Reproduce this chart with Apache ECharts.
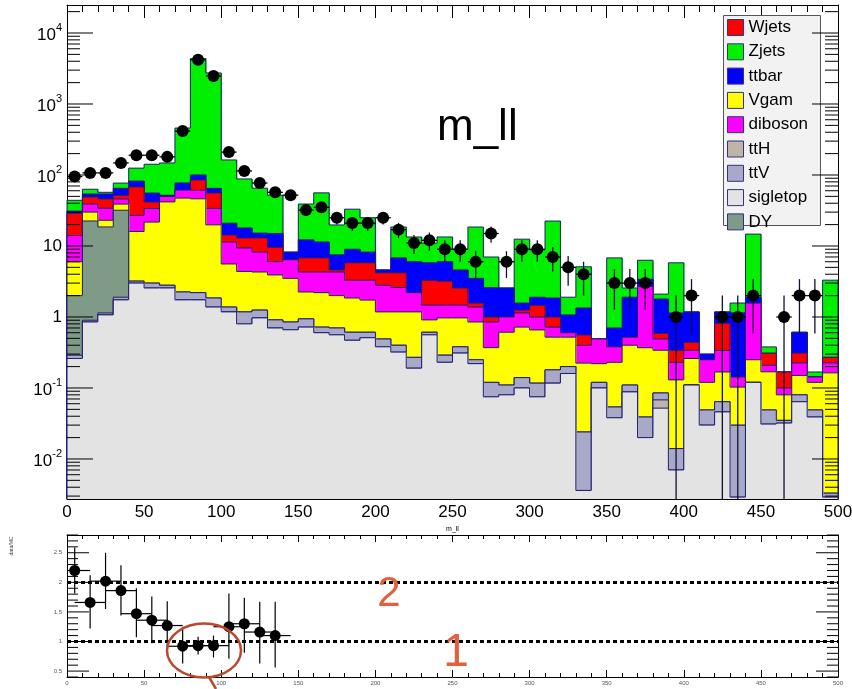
<!DOCTYPE html>
<html><head><meta charset="utf-8">
<script src="https://cdn.jsdelivr.net/npm/echarts@6/dist/echarts.min.js"></script>
<style>html,body{margin:0;padding:0;background:#fff}#c{width:852px;height:689px}</style>
</head><body><div id="c"></div>
<script>
// ---------------- DATA ----------------
const binLowEdges = [0,10,20,30,40,50,60,70,80,90,100,110,120,130,140,150,160,170,180,190,200,210,220,230,240,250,260,270,280,290,300,310,320,330,340,350,360,370,380,390,400,410,420,430,440,450,460,470,480,490];
const BIN_WIDTH = 10;

// stack components (bottom -> top)
const sigletop = [.26,.85,1.07,1.74,3.0,2.56,2.56,1.74,1.74,1.38, 1.18,.80,.97,.70,.66,.72,.60,.56,.47,.51, .38,.32,.19,.56,.23,.31,.22,.075,.08,.10, .075,.117,.16,.0036,.10,.038,.088,.020,.052,.007, .11,.030,.046,.0029,.12,.031,.032,.064,.039,.0029];
const ttH = [0,0,0,0,0,0,0,0,0,0, 0,0,0,0,0,0,0,0,0,0, 0,0,0,0,0,0,0,0,0,0, 0,0,0,0,0,0,0,0,.016,0, 0,0,0,0,0,0,0,0,0,0];
const ttV = [.03,.05,.07,.16,.2,.44,.24,.51,.46,.47, .2,.38,.28,.21,.19,.22,.12,.14,.14,.10, .11,.08,.08,.05,.06,.07,.03,.045,.03,.04, .042,.063,.04,.0204,.02,.016,.022,.019,.017,.007, 0,.019,.018,.027,0,.018,.003,.016,.01,.0004];
const DY = [1.71,21.6,17.4,30,0,0,0,0,0,0, 0,0,0,0,0,0,0,0,0,0, 0,0,0,0,0,0,0,0,0,0, 0,0,0,0,0,0,0,0,0,0, 0,0,0,0,0,0,0,0,0,0];
const Vgam = [4.0,7.5,4.5,7,12.8,18.7,39,45,44,18, 4.2,3.2,3.05,3.0,2.65,1.31,1.48,1.3,1.24,1.12, .69,.78,.91,.30,.68,.59,.6,.25,.5,.58, .54,.34,.32,.2,.10,.176,.29,.33,.255,.116, .15,.071,.104,.073,.13,.12,.045,.07,.071,.16];
const diboson = [8,9,11,7,11,12,8,14,15,14, 5.8,5,3.9,2.1,2.9,2.05,2.1,2.3,1.45,1.57, 1.62,1.42,1.02,.56,.5,.5,.53,.48,.39,.42, .34,.2,.08,.175,.27,.15,.12,2.33,.15,.1, .08,.13,.17,.04,1.32,.04,.02,.075,.023,.062];
const Wjets = [15,10,12,6,41,8,0,0,24,22, 2.9,3.6,4.8,3.6,0,2.5,2.5,.3,2.5,2.5, 1.4,1.6,0,1.83,1.73,1.09,.19,.15,0,.11, .47,.28,0,.16,0,0,0,0,.1,.11, .1,0,.48,0,0,.1,.068,.085,0,.045];
const ttbar = [2,5,8,13,14,14,2,16,15,9, 6.7,5,2.2,5.4,1.8,5.4,4.6,2.9,3.2,2.4, .4,2.6,3.8,2.5,2.8,2.04,1.93,1.6,1.56,.32, .43,.85,.47,.78,0,.32,1.38,.7,1.2,.8, .74,.05,.36,1.0,.33,0,0,.3,0,0];
const Zjets = [13,9,3,12,43,86,96,381,4260,2675, 142,70,50,37,0,26.8,44.6,12.3,24,16.8, 0,11.7,7.4,5.2,7.4,4.4,15,4.4,0,10.9, 6.9,20.6,.83,3.76,0,6.1,.66,2.9,.31,4.66, 0,0,0,.43,12.8,.07,0,0,.025,3.03];

// observed data counts
const dataCounts = [95,107,107,148,190,190,180,416,4190,2480, 210,114,77,57,52,32,35,25,21,21, 25,17,11,12,9,9,6,15,6,9, 9,7,5,4,0,3,3,3,0,1, 2,0,1,1,2,0,1,2,2,0];

// ratio panel (data/MC), first 14 bins
const ratioValues = [2.20,1.66,2.02,1.86,1.47,1.36,1.27,0.92,0.93,0.93,1.25,1.30,1.16,1.10];
const ratioHigh   = [2.59,2.12,2.50,2.29,1.90,1.76,1.68,1.25,1.08,1.10,1.81,1.74,1.67,1.67];
const ratioLow    = [1.81,1.22,1.55,1.44,1.07,0.97,0.90,0.63,0.78,0.73,0.71,0.81,0.63,0.56];

// tick definitions
const yDecades = [0.001,0.01,0.1,1,10,100,1000,10000];
const yMinorMultipliers = [2,3,4,5,6,7,8,9];
const ratioMajorTicks = [0.5,1,1.5,2,2.5];

const legendOrder = ['Wjets','Zjets','ttbar','Vgam','diboson','ttH','ttV','sigletop','DY'];

// ---------------- CHART ----------------
const FONT = '"Liberation Sans", Arial, Helvetica, sans-serif';
const Y_MIN = 0.00273, Y_MAX = 24800;
const X_MAX = 500;
const LINE = '#1e1e6e';
const clampY = v => Math.min(Math.max(v, Y_MIN), Y_MAX);

const processes = [
  {name:'sigletop', values:sigletop, color:'#e3e3e3'},
  {name:'ttH', values:ttH, color:'#beb4aa'},
  {name:'ttV', values:ttV, color:'#a8a8c8'},
  {name:'DY', values:DY, color:'#809a88'},
  {name:'Vgam', values:Vgam, color:'#ffff00'},
  {name:'diboson', values:diboson, color:'#ff00ff'},
  {name:'Wjets', values:Wjets, color:'#ff0000'},
  {name:'ttbar', values:ttbar, color:'#0000ff'},
  {name:'Zjets', values:Zjets, color:'#00f000'}
];
const cumulative = [];
let acc = binLowEdges.map(() => 0);
processes.forEach(p => { acc = acc.map((a, i) => a + p.values[i]); cumulative.push(acc); });
const NB = binLowEdges.length;

const stackSeries = processes.map((p, k) => {
  const cum = cumulative[k];
  return {
    type:'custom', name:p.name, xAxisIndex:0, yAxisIndex:0, z:2,
    itemStyle:{color:p.color}, silent:true,
    encode:{x:0, y:1},
    data: cum.map((v, i) => [binLowEdges[i] + BIN_WIDTH/2, clampY(v)]),
    renderItem:(params, api) => {
      const i = params.dataIndex;
      const x0 = binLowEdges[i], x1 = x0 + BIN_WIDTH;
      const top = clampY(cum[i]);
      const prev = i > 0 ? clampY(cum[i-1]) : Y_MIN;
      const bl = api.coord([x0, Y_MIN]);
      const tr = api.coord([x1, top]);
      const pv = api.coord([x0, prev]);
      const extra = (i < NB - 1) ? 0.7 : 0;
      const pts = [[bl[0], pv[1]], [bl[0], tr[1]], [tr[0], tr[1]]];
      if (i === NB - 1) pts.push([tr[0], bl[1]]);
      return {type:'group', children:[
        {type:'rect', shape:{x:bl[0], y:tr[1], width:tr[0]-bl[0]+extra, height:bl[1]-tr[1]}, style:{fill:p.color}},
        {type:'polyline', shape:{points:pts}, style:{stroke:LINE, lineWidth:1, fill:null}}
      ]};
    }
  };
}).reverse();

// data points
const dataPts = [];
dataCounts.forEach((n, i) => { if (n > 0) dataPts.push([binLowEdges[i] + BIN_WIDTH/2, n]); });

const dataErr = {
  type:'custom', xAxisIndex:0, yAxisIndex:0, z:5, silent:true,
  encode:{x:0, y:1}, data:dataPts,
  renderItem:(params, api) => {
    const x = api.value(0), n = api.value(1), e = Math.sqrt(n);
    const l = api.coord([x - BIN_WIDTH/2, n]), r = api.coord([x + BIN_WIDTH/2, n]);
    const t = api.coord([x, clampY(n + e)]), b = api.coord([x, clampY(n - e)]);
    return {type:'group', children:[
      {type:'line', shape:{x1:l[0], y1:l[1], x2:r[0], y2:r[1]}, style:{stroke:'#000', lineWidth:1.3}},
      {type:'line', shape:{x1:t[0], y1:t[1], x2:b[0], y2:b[1]}, style:{stroke:'#111133', lineWidth:1.3}}
    ]};
  }
};
const dataScatter = {type:'scatter', xAxisIndex:0, yAxisIndex:0, z:6, silent:true, symbol:'circle', symbolSize:12,
  itemStyle:{color:'#000', opacity:1}, data:dataPts};

// ticks on main y (log)
const yTickData = [];
yDecades.forEach(d => {
  if (d >= Y_MIN && d <= Y_MAX) yTickData.push([0, d, 26]);
  yMinorMultipliers.forEach(m => { const v = d*m; if (v >= Y_MIN && v <= Y_MAX) yTickData.push([0, v, 13]); });
});
const tickRender = (xmax) => (params, api) => {
  const v = api.value(1), len = api.value(2);
  const pl = api.coord([0, v]), pr = api.coord([xmax, v]);
  return {type:'group', children:[
    {type:'line', shape:{x1:pl[0], y1:pl[1], x2:pl[0]+len, y2:pl[1]}, style:{stroke:'#000', lineWidth:1}},
    {type:'line', shape:{x1:pr[0], y1:pr[1], x2:pr[0]-len, y2:pr[1]}, style:{stroke:'#000', lineWidth:1}}
  ]};
};
const yTicks = {type:'custom', xAxisIndex:0, yAxisIndex:0, z:7, silent:true, encode:{x:0,y:1}, data:yTickData, renderItem:tickRender(X_MAX)};

// ratio ticks
const rTickData = [];
for (let t = 4; t <= 28; t++) {
  const v = t/10;
  const major = ratioMajorTicks.some(m => Math.abs(m - v) < 1e-9);
  rTickData.push([0, v, major ? 22 : 11]);
}
const rTicks = {type:'custom', xAxisIndex:2, yAxisIndex:2, z:7, silent:true, encode:{x:0,y:1}, data:rTickData, renderItem:tickRender(X_MAX)};

// ratio points
const ratioPts = ratioValues.map((v, i) => [binLowEdges[i] + BIN_WIDTH/2, v, ratioLow[i], ratioHigh[i]]);
const ratioErr = {
  type:'custom', xAxisIndex:2, yAxisIndex:2, z:5, silent:true, encode:{x:0,y:1}, data:ratioPts,
  renderItem:(params, api) => {
    const x = api.value(0), v = api.value(1), lo = api.value(2), hi = api.value(3);
    const l = api.coord([Math.max(0, x - BIN_WIDTH), v]), r = api.coord([x + BIN_WIDTH, v]);
    const t = api.coord([x, hi]), b = api.coord([x, lo]);
    return {type:'group', children:[
      {type:'line', shape:{x1:l[0], y1:l[1], x2:r[0], y2:r[1]}, style:{stroke:'#000', lineWidth:1.2}},
      {type:'line', shape:{x1:t[0], y1:t[1], x2:b[0], y2:b[1]}, style:{stroke:'#000', lineWidth:1.2}}
    ]};
  }
};
const ratioScatter = {type:'scatter', xAxisIndex:2, yAxisIndex:2, z:6, silent:true, symbolSize:11,
  itemStyle:{color:'#000', opacity:1}, data:ratioPts.map(p => [p[0], p[1]]),
  markLine:{silent:true, symbol:['none','none'], label:{show:false}, animation:false,
    lineStyle:{color:'#000', type:[4,3], width:3, opacity:1}, data:[{yAxis:1},{yAxis:2}]}};

const xAxisBase = (grid, pos, major, minor, labels) => ({
  gridIndex:grid, type:'value', min:0, max:X_MAX, interval:50, position:pos,
  axisLine:{show:true, onZero:false, lineStyle:{color:'#000', width:1}},
  axisTick:{show:true, inside:true, length:major, lineStyle:{color:'#000'}},
  minorTick:{show:true, splitNumber:5, length:minor, lineStyle:{color:'#000'}},
  splitLine:{show:false}, minorSplitLine:{show:false},
  axisLabel: labels
});

const supLabel = v => {
  const e = Math.log10(v), r = Math.round(e);
  if (Math.abs(e - r) > 1e-4) return '';
  if (r === 0) return '{p|1}';
  if (r === 1) return '{p|10}';
  return '{b|10}{s|' + r + '}';
};

const chart = echarts.init(document.getElementById('c'), null, {renderer:'canvas'});
chart.setOption({
  animation:false,
  backgroundColor:'#fff',
  textStyle:{fontFamily:FONT},
  grid:[
    {left:67, top:5, width:771, height:494, outerBoundsMode:'none', containLabel:false},
    {left:67, top:535, width:771, height:142, outerBoundsMode:'none', containLabel:false}
  ],
  xAxis:[
    Object.assign(xAxisBase(0, 'bottom', 13, 7, {show:true, fontSize:17, color:'#000', fontFamily:FONT, margin:5}),
      {name:'m_ll', nameLocation:'middle', nameGap:19, nameTextStyle:{fontSize:7, color:'#000', fontFamily:FONT}}),
    xAxisBase(0, 'top', 13, 7, {show:false}),
    xAxisBase(1, 'bottom', 7, 4, {show:true, fontSize:6, color:'#555', fontFamily:FONT, margin:3}),
    xAxisBase(1, 'top', 7, 4, {show:false})
  ],
  yAxis:[
    {gridIndex:0, type:'log', logBase:10, min:Y_MIN, max:Y_MAX, position:'left',
      axisLine:{show:true, onZero:false, lineStyle:{color:'#000'}}, axisTick:{show:false}, splitLine:{show:false},
      axisLabel:{show:true, margin:5, showMinLabel:false, showMaxLabel:false, formatter:supLabel,
        rich:{
          p:{fontSize:17, fontFamily:FONT, color:'#000', lineHeight:17},
          b:{fontSize:17, fontFamily:FONT, color:'#000', lineHeight:22, verticalAlign:'bottom'},
          s:{fontSize:11, fontFamily:FONT, color:'#000', lineHeight:22, verticalAlign:'top'}
        }}},
    {gridIndex:0, type:'log', logBase:10, min:Y_MIN, max:Y_MAX, position:'right',
      axisLine:{show:true, onZero:false, lineStyle:{color:'#000'}}, axisTick:{show:false}, splitLine:{show:false}, axisLabel:{show:false}},
    {gridIndex:1, type:'value', min:0.4, max:2.8, interval:0.1, position:'left',
      axisLine:{show:true, onZero:false, lineStyle:{color:'#000'}}, axisTick:{show:false}, splitLine:{show:false},
      axisLabel:{show:true, fontSize:6, color:'#555', fontFamily:FONT, margin:5,
        formatter:v => { const t = Math.round(v*10); return (t % 5 === 0) ? String(t/10) : ''; }}},
    {gridIndex:1, type:'value', min:0.4, max:2.8, interval:0.1, position:'right',
      axisLine:{show:true, onZero:false, lineStyle:{color:'#000'}}, axisTick:{show:false}, splitLine:{show:false}, axisLabel:{show:false}}
  ],
  legend:{
    show:true, orient:'vertical', left:727, top:19, padding:0, itemGap:7.3, itemWidth:16, itemHeight:16,
    icon:'rect', selectedMode:false, z:5,
    itemStyle:{borderColor:'#33337a', borderWidth:1},
    textStyle:{fontSize:17, color:'#000', fontFamily:FONT, lineHeight:16},
    data:legendOrder
  },
  graphic:[
    {type:'rect', z:3, shape:{x:723.5, y:15.5, width:97, height:210}, style:{fill:'#f2f2f2', stroke:'#555', lineWidth:1}},
    {type:'text', z:10, x:437, y:128, style:{text:'m_ll', font:'44px ' + FONT, fill:'#000', verticalAlign:'middle', align:'left'}},
    {type:'text', z:10, x:12, y:546, rotation:Math.PI/2, style:{text:'data/MC', font:'5px ' + FONT, fill:'#444', align:'center', verticalAlign:'middle'}},
    {type:'ellipse', z:100, shape:{cx:204, cy:650.5, rx:37, ry:27}, style:{fill:null, stroke:'#b8492f', lineWidth:2.5}},
    {type:'line', z:100, shape:{x1:209, y1:677, x2:216, y2:689}, style:{stroke:'#b8492f', lineWidth:2.5}},
    {type:'text', z:100, x:389, y:594, style:{text:'2', font:'42px ' + FONT, fill:'#e2603c', align:'center', verticalAlign:'middle'}},
    {type:'text', z:100, x:456, y:653, style:{text:'1', font:'46px ' + FONT, fill:'#e2603c', align:'center', verticalAlign:'middle'}}
  ],
  series:[...stackSeries, dataErr, dataScatter, yTicks, rTicks, ratioErr, ratioScatter]
});
</script></body></html>
